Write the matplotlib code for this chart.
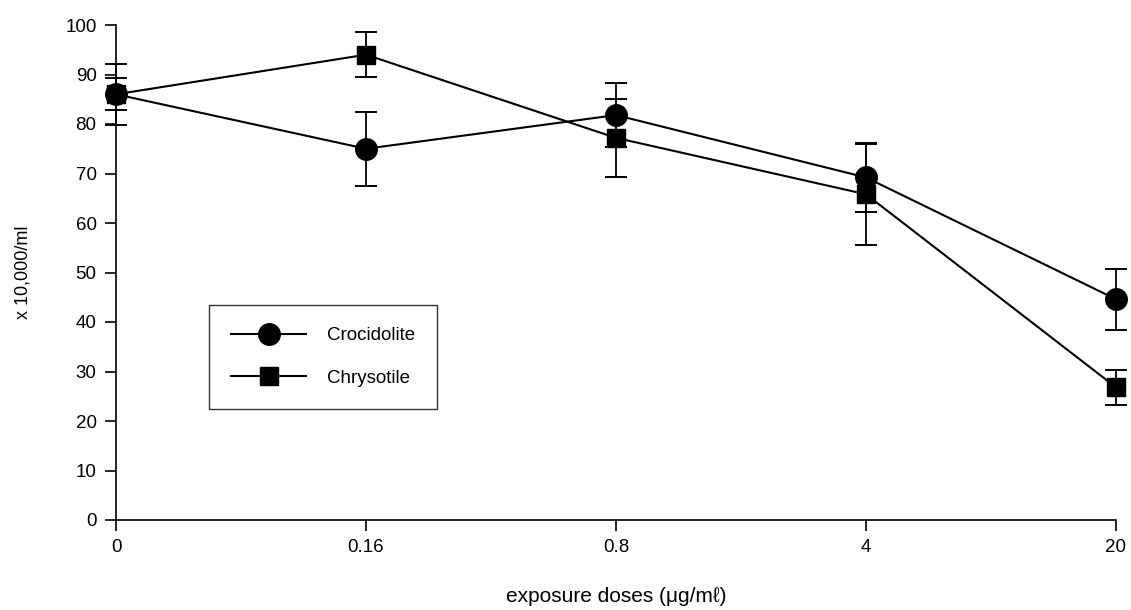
import matplotlib
matplotlib.use("Agg")
import matplotlib.pyplot as plt
from matplotlib.lines import Line2D

plt.rcParams['font.family'] = ['Liberation Sans', 'DejaVu Sans']

doses = ["0", "0.16", "0.8", "4", "20"]
crocidolite = [86, 75, 81.8, 69.2, 44.6]
crocidolite_err = [3.2, 7.5, 6.4, 6.9, 6.2]
chrysotile = [86, 94, 77.2, 65.8, 26.8]
chrysotile_err = [6.2, 4.5, 7.9, 10.2, 3.6]

fig = plt.figure(figsize=(11.31, 6.10), dpi=100)
ax = fig.add_axes([116/1131, 90/610, 1000/1131, 495/610])

x = list(range(len(doses)))
ax.errorbar(x, crocidolite, yerr=crocidolite_err, color="black", marker="o",
            markersize=15.5, linewidth=1.5, capsize=8, capthick=1.4,
            elinewidth=1.3, clip_on=False, zorder=3)
ax.errorbar(x, chrysotile, yerr=chrysotile_err, color="black", marker="s",
            markersize=13.5, linewidth=1.5, capsize=8, capthick=1.4,
            elinewidth=1.3, clip_on=False, zorder=4)

ax.set_xlim(0, 4)
ax.set_ylim(0, 100)
ax.set_xticks(x)
ax.set_xticklabels(doses)
ax.set_yticks(range(0, 101, 10))
ax.spines["top"].set_visible(False)
ax.spines["right"].set_visible(False)
ax.spines["left"].set_linewidth(1.2)
ax.spines["bottom"].set_linewidth(1.2)
ax.tick_params(axis="both", labelsize=13.5, length=8, width=1.2, pad=6)

ax.set_ylabel("x 10,000/ml", fontsize=13, labelpad=24)
ax.set_xlabel("exposure doses (\u03bcg/m\u2113)", fontsize=15, labelpad=22)

handles = [
    Line2D([], [], color="black", marker="o", markersize=15.5, linewidth=1.5),
    Line2D([], [], color="black", marker="s", markersize=13.5, linewidth=1.5),
]
leg = ax.legend(handles, ["Crocidolite", "Chrysotile"], loc="center",
                bbox_to_anchor=(0.094, 0.228, 0.226, 0.202),
                fontsize=13.5, frameon=True, fancybox=False,
                edgecolor="black", handlelength=4.0, borderpad=1.2,
                labelspacing=1.35, handletextpad=1.1)
leg.get_frame().set_linewidth(1.0)

fig.savefig("out.png", dpi=100)
